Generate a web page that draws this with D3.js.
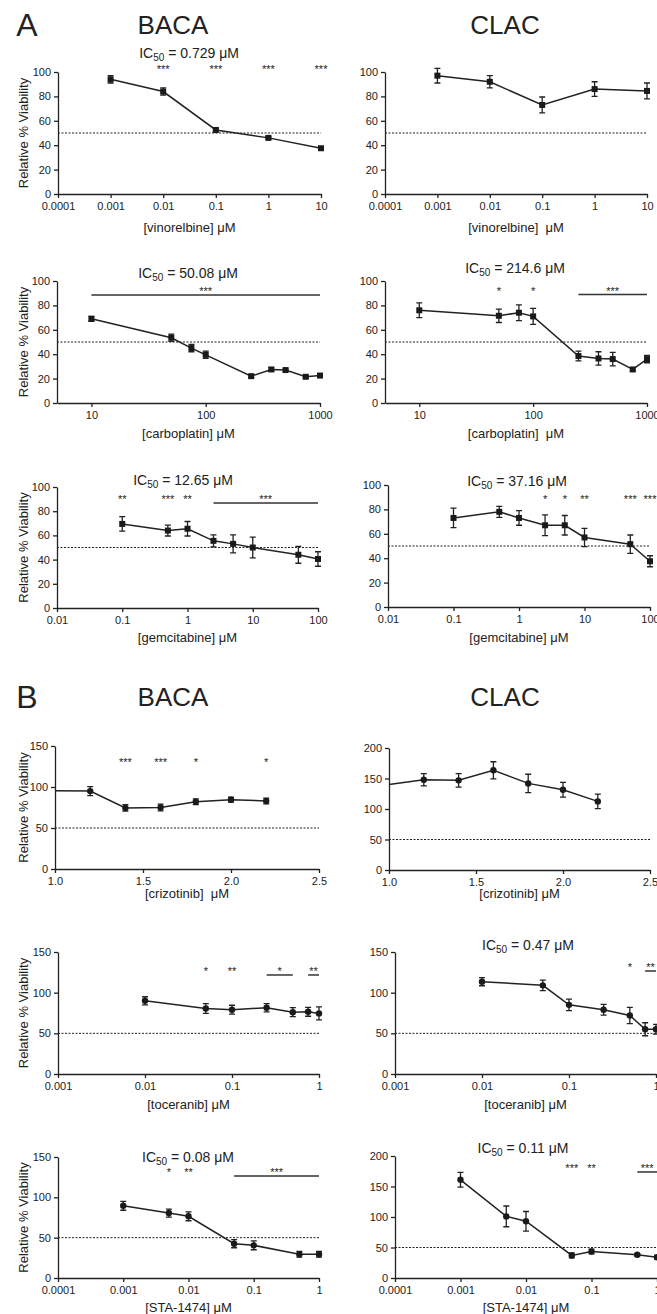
<!DOCTYPE html>
<html>
<head>
<meta charset="utf-8">
<script src="https://cdn.jsdelivr.net/npm/d3@7"></script>
<style>
  body { margin: 0; background: #fff; }
  svg text { font-family: 'Liberation Sans', Arial, Helvetica, sans-serif; fill: #222; white-space: pre; }
</style>
</head>
<body>
<svg id="fig" width="657" height="1314"></svg>
<script>
// ---------- A : vinorelbine ----------
const vinDose = [0.001, 0.01, 0.1, 1, 10]
const vinBaca = [94, 84, 52.5, 46, 37.5]
const vinBacaErr = [3, 3, 1.5, 1, 1]
const vinClac = [97, 92, 73, 86, 84.5]
const vinClacErr = [6, 5, 6.5, 6, 6.5]
const vinBacaStars = [[0.01, '***'], [0.1, '***'], [1, '***'], [10, '***']]

// ---------- A : carboplatin ----------
const carboDose = [10, 50, 75, 100, 250, 375, 500, 750, 1000]
const carboBaca = [69, 53.5, 45, 39.5, 22, 27.5, 27, 21.5, 22.5]
const carboBacaErr = [2, 3, 3, 3, 1, 1.5, 1, 1, 1]
const carboClac = [76, 71.5, 74, 71, 38.5, 36.5, 36, 27.5, 36]
const carboClacErr = [6, 5.5, 6.5, 6.5, 4, 5.5, 5.5, 1.5, 3]
const carboBacaBars = [[10, 1000, '***']]
const carboClacStars = [[50, '*'], [100, '*']]
const carboClacBars = [[250, 1000, '***']]

// ---------- A : gemcitabine ----------
const gemDose = [0.1, 0.5, 1, 2.5, 5, 10, 50, 100]
const gemBaca = [69.5, 64, 65.5, 55.5, 53, 50, 44, 40.5]
const gemBacaErr = [6, 4.5, 6, 5, 7.5, 8.5, 7, 6]
const gemClac = [73, 78, 73, 67, 67, 57, 51.5, 37.5]
const gemClacErr = [8, 4.5, 6, 8.5, 8, 7.5, 7.5, 4.5]
const gemBacaStars = [[0.1, '**'], [0.5, '***'], [1, '**']]
const gemBacaBars = [[2.5, 100, '***']]
const gemClacStars = [[2.5, '*'], [5, '*'], [10, '**'], [50, '***'], [100, '***']]

// ---------- B : crizotinib ----------
const crizDose = [1.0, 1.2, 1.4, 1.6, 1.8, 2.0, 2.2]
const crizBaca = [95.5, 95, 74.5, 75, 82, 84.5, 83]
const crizBacaErr = [null, 5.5, 4, 4, 3.5, 3, 3.5]
const crizClac = [140, 148, 147, 163.5, 142, 131.5, 112.5]
const crizClacErr = [null, 10, 11, 14, 15, 12, 12]
const crizBacaStars = [[1.4, '***'], [1.6, '***'], [1.8, '*'], [2.2, '*']]

// ---------- B : toceranib ----------
const tocDose = [0.01, 0.05, 0.1, 0.25, 0.5, 0.75, 1]
const tocBaca = [90, 80.5, 79, 81.5, 76, 76.5, 74.5]
const tocBacaErr = [5, 6, 5.5, 5, 5.5, 5.5, 8]
const tocClac = [113.5, 109, 85, 79, 72, 55, 55]
const tocClacErr = [5, 6.5, 7, 6.5, 10, 8, 6]
const tocBacaStars = [[0.05, '*'], [0.1, '**']]
const tocBacaBars = [[0.25, 0.5, '*'], [0.75, 1, '**']]
const tocClacStars = [[0.5, '*']]
const tocClacBars = [[0.75, 1, '**']]

// ---------- B : STA-1474 ----------
const staDose = [0.001, 0.005, 0.01, 0.05, 0.1, 0.5, 1]
const staBaca = [89.5, 80.5, 76.5, 42.5, 40.5, 29.5, 29.5]
const staBacaErr = [5.5, 5, 5.5, 5, 5.5, 3.5, 3.5]
const staClac = [161, 101, 93, 37, 43.5, 38, 34]
const staClacErr = [12, 17, 16, 4, 4, 2, 3]
const staBacaStars = [[0.005, '*'], [0.01, '**']]
const staBacaBars = [[0.05, 1, '***']]
const staClacStars = [[0.05, '***'], [0.1, '**']]
const staClacBars = [[0.5, 1, '***']]

// IC50 labels
const ic50 = { vinBaca: '0.729', carboBaca: '50.08', carboClac: '214.6', gemBaca: '12.65', gemClac: '37.16', tocClac: '0.47', staBaca: '0.08', staClac: '0.11' }

// tick sets
const ticksVin = [0.0001, 0.001, 0.01, 0.1, 1, 10]
const ticksVinLab = ['0.0001', '0.001', '0.01', '0.1', '1', '10']
const ticksCarbo = [10, 100, 1000]
const ticksCarboLab = ['10', '100', '1000']
const ticksGem = [0.01, 0.1, 1, 10, 100]
const ticksGemLab = ['0.01', '0.1', '1', '10', '100']
const ticksCriz = [1.0, 1.5, 2.0, 2.5]
const ticksCrizLab = ['1.0', '1.5', '2.0', '2.5']
const ticksToc = [0.001, 0.01, 0.1, 1]
const ticksTocLab = ['0.001', '0.01', '0.1', '1']
const ticksSta = [0.0001, 0.001, 0.01, 0.1, 1]
const ticksStaLab = ['0.0001', '0.001', '0.01', '0.1', '1']

const svg = d3.select('#fig')

/**
 * Draws one dose-response panel.
 */
function drawPanel (p) {
  const g = svg.append('g')
  const x = (p.log ? d3.scaleLog() : d3.scaleLinear()).domain(p.xDomain).range([p.x0, p.x1])
  const y = d3.scaleLinear().domain([0, p.yMax]).range([p.yBot, p.yTop])

  g.append('g')
    .attr('transform', 'translate(' + p.x0 + ',0)')
    .call(d3.axisLeft(y).tickValues(p.yTicks).tickSize(4).tickSizeOuter(0).tickPadding(3))
  g.append('g')
    .attr('transform', 'translate(0,' + p.yBot + ')')
    .call(d3.axisBottom(x).tickValues(p.xTicks)
      .tickFormat(d => p.xTickLabels[p.xTicks.indexOf(d)])
      .tickSize(4).tickSizeOuter(0).tickPadding(4))
  g.selectAll('.domain, .tick line').attr('stroke', '#222').attr('stroke-width', 1.3)
  g.selectAll('.tick text').attr('font-size', 11).attr('fill', '#222')

  // 50% reference line
  g.append('line')
    .attr('x1', p.x0).attr('x2', p.x1)
    .attr('y1', y(50)).attr('y2', y(50))
    .attr('stroke', '#222').attr('stroke-width', 1).attr('stroke-dasharray', '2,1.5')

  const pts = p.dose.map((d, i) => ({ dose: d, mean: p.mean[i], err: p.err[i] }))
  g.append('path').datum(pts)
    .attr('d', d3.line().x(d => x(d.dose)).y(d => y(d.mean)))
    .attr('fill', 'none').attr('stroke', '#222').attr('stroke-width', 1.5)

  const shown = pts.filter(d => d.err != null)
  g.selectAll('.eb').data(shown).enter().append('path')
    .attr('d', function (d) {
      const cx = x(d.dose)
      const lo = y(d.mean - d.err)
      const hi = y(d.mean + d.err)
      return 'M' + cx + ',' + lo + 'V' + hi +
        'M' + (cx - 3) + ',' + lo + 'H' + (cx + 3) +
        'M' + (cx - 3) + ',' + hi + 'H' + (cx + 3)
    })
    .attr('fill', 'none').attr('stroke', '#222').attr('stroke-width', 1.3)

  if (p.marker === 'square') {
    g.selectAll('.pt').data(shown).enter().append('rect')
      .attr('x', d => x(d.dose) - 3).attr('y', d => y(d.mean) - 3)
      .attr('width', 6).attr('height', 6).attr('fill', '#1a1a1a')
  } else {
    g.selectAll('.pt').data(shown).enter().append('circle')
      .attr('cx', d => x(d.dose)).attr('cy', d => y(d.mean))
      .attr('r', 3.2).attr('fill', '#1a1a1a')
  }

  // significance marks
  const sy = p.starLevel != null ? y(p.starLevel) : 0
  g.selectAll('.star').data(p.stars || []).enter().append('text')
    .attr('x', d => x(d[0])).attr('y', sy + 5)
    .attr('text-anchor', 'middle').attr('font-size', 11)
    .text(d => d[1])
  const bars = g.selectAll('.bar').data(p.bars || []).enter().append('g')
  bars.append('line')
    .attr('x1', d => x(d[0])).attr('x2', d => x(d[1]))
    .attr('y1', sy + 5).attr('y2', sy + 5)
    .attr('stroke', '#333').attr('stroke-width', 1.5)
  bars.append('text')
    .attr('x', d => (x(d[0]) + x(d[1])) / 2).attr('y', sy + 5)
    .attr('text-anchor', 'middle').attr('font-size', 11)
    .text(d => d[2])

  if (p.ic50) {
    const t = g.append('text')
      .attr('x', p.titleX).attr('y', p.titleY + 5)
      .attr('text-anchor', 'middle').attr('font-size', 14)
    t.append('tspan').text('IC')
    t.append('tspan').attr('font-size', 10).attr('dy', 3).text('50')
    t.append('tspan').attr('dy', -3).text(' = ' + p.ic50 + ' μM')
  }

  if (p.yLabel) {
    g.append('text')
      .attr('transform', 'translate(23,' + (p.yTop + p.yBot) / 2 + ') rotate(-90)')
      .attr('text-anchor', 'middle').attr('dy', '0.35em').attr('font-size', 13)
      .text('Relative % Viability')
  }

  g.append('text')
    .attr('x', (p.x0 + p.x1) / 2).attr('y', p.xLabelY)
    .attr('text-anchor', 'middle').attr('dy', '0.35em').attr('font-size', 13)
    .text(p.xLabel)
}

const panels = [
  { log: true, xDomain: [0.0001, 10], xTicks: ticksVin, xTickLabels: ticksVinLab, yMax: 100, yTicks: [0, 20, 40, 60, 80, 100],
    x0: 58, x1: 321, yTop: 72, yBot: 194, marker: 'square', dose: vinDose, mean: vinBaca, err: vinBacaErr,
    starLevel: 103, stars: vinBacaStars, ic50: ic50.vinBaca, titleX: 189, titleY: 53, yLabel: true,
    xLabel: '[vinorelbine] μM', xLabelY: 227 },
  { log: true, xDomain: [0.0001, 10], xTicks: ticksVin, xTickLabels: ticksVinLab, yMax: 100, yTicks: [0, 20, 40, 60, 80, 100],
    x0: 385, x1: 647, yTop: 72, yBot: 194, marker: 'square', dose: vinDose, mean: vinClac, err: vinClacErr,
    xLabel: '[vinorelbine]  μM', xLabelY: 227 },
  { log: true, xDomain: [5, 1000], xTicks: ticksCarbo, xTickLabels: ticksCarboLab, yMax: 100, yTicks: [0, 20, 40, 60, 80, 100],
    x0: 57, x1: 320, yTop: 281, yBot: 403, marker: 'square', dose: carboDose, mean: carboBaca, err: carboBacaErr,
    starLevel: 92.6, bars: carboBacaBars, ic50: ic50.carboBaca, titleX: 188, titleY: 273, yLabel: true,
    xLabel: '[carboplatin] μM', xLabelY: 433 },
  { log: true, xDomain: [5, 1000], xTicks: ticksCarbo, xTickLabels: ticksCarboLab, yMax: 100, yTicks: [0, 20, 40, 60, 80, 100],
    x0: 385, x1: 647, yTop: 281, yBot: 403, marker: 'square', dose: carboDose, mean: carboClac, err: carboClacErr,
    starLevel: 93, stars: carboClacStars, bars: carboClacBars, ic50: ic50.carboClac, titleX: 515, titleY: 268,
    xLabel: '[carboplatin]  μM', xLabelY: 433 },
  { log: true, xDomain: [0.01, 100], xTicks: ticksGem, xTickLabels: ticksGemLab, yMax: 100, yTicks: [0, 20, 40, 60, 80, 100],
    x0: 57, x1: 318, yTop: 487, yBot: 608, marker: 'square', dose: gemDose, mean: gemBaca, err: gemBacaErr,
    starLevel: 91, stars: gemBacaStars, bars: gemBacaBars, ic50: ic50.gemBaca, titleX: 183, titleY: 480, yLabel: true,
    xLabel: '[gemcitabine] μM', xLabelY: 637 },
  { log: true, xDomain: [0.01, 100], xTicks: ticksGem, xTickLabels: ticksGemLab, yMax: 100, yTicks: [0, 20, 40, 60, 80, 100],
    x0: 388, x1: 650, yTop: 485, yBot: 607, marker: 'square', dose: gemDose, mean: gemClac, err: gemClacErr,
    starLevel: 89.3, stars: gemClacStars, ic50: ic50.gemClac, titleX: 517, titleY: 481,
    xLabel: '[gemcitabine] μM', xLabelY: 637 },
  { log: false, xDomain: [1, 2.5], xTicks: ticksCriz, xTickLabels: ticksCrizLab, yMax: 150, yTicks: [0, 50, 100, 150],
    x0: 55, x1: 319, yTop: 746, yBot: 869, marker: 'circle', dose: crizDose, mean: crizBaca, err: crizBacaErr,
    starLevel: 131.7, stars: crizBacaStars, yLabel: true,
    xLabel: '[crizotinib]  μM', xLabelY: 893 },
  { log: false, xDomain: [1, 2.5], xTicks: ticksCriz, xTickLabels: ticksCrizLab, yMax: 200, yTicks: [0, 50, 100, 150, 200],
    x0: 389, x1: 650, yTop: 748, yBot: 870, marker: 'circle', dose: crizDose, mean: crizClac, err: crizClacErr,
    xLabel: '[crizotinib] μM', xLabelY: 893 },
  { log: true, xDomain: [0.001, 1], xTicks: ticksToc, xTickLabels: ticksTocLab, yMax: 150, yTicks: [0, 50, 100, 150],
    x0: 58, x1: 319, yTop: 952, yBot: 1074, marker: 'circle', dose: tocDose, mean: tocBaca, err: tocBacaErr,
    starLevel: 127.9, stars: tocBacaStars, bars: tocBacaBars, yLabel: true,
    xLabel: '[toceranib] μM', xLabelY: 1104 },
  { log: true, xDomain: [0.001, 1], xTicks: ticksToc, xTickLabels: ticksTocLab, yMax: 150, yTicks: [0, 50, 100, 150],
    x0: 395, x1: 656, yTop: 952, yBot: 1074, marker: 'circle', dose: tocDose, mean: tocClac, err: tocClacErr,
    starLevel: 132.8, stars: tocClacStars, bars: tocClacBars, ic50: ic50.tocClac, titleX: 528, titleY: 945,
    xLabel: '[toceranib] μM', xLabelY: 1104 },
  { log: true, xDomain: [0.0001, 1], xTicks: ticksSta, xTickLabels: ticksStaLab, yMax: 150, yTicks: [0, 50, 100, 150],
    x0: 58, x1: 319, yTop: 1157, yBot: 1278, marker: 'circle', dose: staDose, mean: staBaca, err: staBacaErr,
    starLevel: 132.6, stars: staBacaStars, bars: staBacaBars, ic50: ic50.staBaca, titleX: 188, titleY: 1157, yLabel: true,
    xLabel: '[STA-1474] μM', xLabelY: 1307 },
  { log: true, xDomain: [0.0001, 1], xTicks: ticksSta, xTickLabels: ticksStaLab, yMax: 200, yTicks: [0, 50, 100, 150, 200],
    x0: 395, x1: 657, yTop: 1156, yBot: 1278, marker: 'circle', dose: staDose, mean: staClac, err: staClacErr,
    starLevel: 182, stars: staClacStars, bars: staClacBars, ic50: ic50.staClac, titleX: 523, titleY: 1148,
    xLabel: '[STA-1474] μM', xLabelY: 1307 }
]

panels.forEach(drawPanel)

// column headers and section letters
const headers = [
  { t: 'A', x: 27, y: 25, size: 32 },
  { t: 'BACA', x: 173, y: 25, size: 26 },
  { t: 'CLAC', x: 505, y: 25, size: 26 },
  { t: 'B', x: 27, y: 697, size: 32 },
  { t: 'BACA', x: 173, y: 697, size: 26 },
  { t: 'CLAC', x: 505, y: 697, size: 26 }
]
svg.selectAll('.hdr').data(headers).enter().append('text')
  .attr('x', d => d.x).attr('y', d => d.y)
  .attr('dy', '0.35em').attr('text-anchor', 'middle')
  .attr('font-size', d => d.size)
  .text(d => d.t)
</script>
</body>
</html>
